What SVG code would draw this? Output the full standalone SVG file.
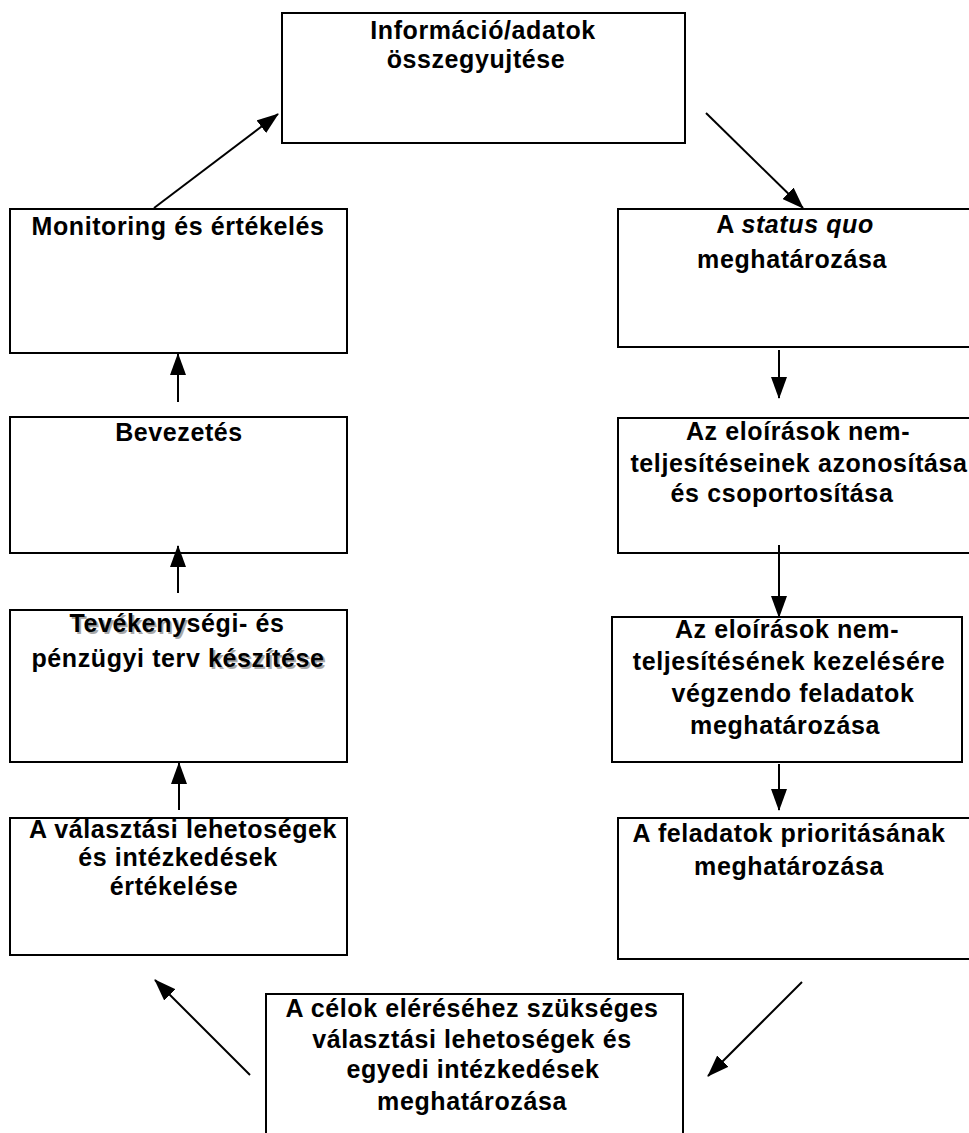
<svg xmlns="http://www.w3.org/2000/svg" width="969" height="1133" viewBox="0 0 969 1133">
<defs>
<marker id="ah" markerUnits="userSpaceOnUse" markerWidth="22" markerHeight="16" refX="21" refY="8" orient="auto">
<path d="M0,0 L22,8 L0,16 z" fill="#000"/>
</marker>
<style>
.box{fill:#fff;stroke:#000;stroke-width:2}
.t{font-family:"Liberation Sans",Arial,sans-serif;font-weight:bold;font-size:25px;letter-spacing:0.6px;fill:#000;text-anchor:middle}
.sh{fill:#a8a8a8}
.no{fill:none}
.c{stroke:#000;stroke-width:2;fill:none;marker-end:url(#ah)}
</style>
</defs>
<rect width="969" height="1133" fill="#fff"/>
<g id="n-info">
<rect class="box" x="282" y="13" width="403" height="130"/>
<text class="t" x="483" y="39">Információ/adatok</text>
<text class="t" x="476" y="68">összegyujtése</text>
</g>
<g id="n-statusquo">
<rect class="box" x="618" y="209" width="360" height="138"/>
<text class="t" x="795" y="233">A <tspan font-style="italic">status quo</tspan></text>
<text class="t" x="792" y="268">meghatározása</text>
</g>
<g id="n-azonositas">
<rect class="box" x="618" y="418" width="360" height="135"/>
<text class="t" x="798" y="440">Az eloírások nem-</text>
<text class="t" x="799" y="472">teljesítéseinek azonosítása</text>
<text class="t" x="782" y="502">és csoportosítása</text>
</g>
<g id="n-feladatok">
<rect class="box" x="612" y="617" width="350" height="145"/>
<text class="t" x="787" y="638">Az eloírások nem-</text>
<text class="t" x="789" y="670">teljesítésének kezelésére</text>
<text class="t" x="793" y="702">végzendo feladatok</text>
<text class="t" x="785" y="734">meghatározás<tspan font-weight="600">a</tspan></text>
</g>
<g id="n-prioritas">
<rect class="box" x="618" y="818" width="360" height="141"/>
<text class="t" x="789" y="842">A feladatok prioritásának</text>
<text class="t" x="789" y="875">meghatározása</text>
</g>
<g id="n-celok">
<rect class="box" x="266" y="994" width="417" height="150"/>
<text class="t" x="472" y="1017">A célok eléréséhez szükséges</text>
<text class="t" x="472" y="1048">választási lehetoségek és</text>
<text class="t" x="473" y="1078">egyedi intézkedések</text>
<text class="t" x="472" y="1110">meghatározása</text>
</g>
<g id="n-ertekeles">
<rect class="box" x="10" y="818" width="337" height="137"/>
<text class="t" x="183" y="838">A választási lehetoségek</text>
<text class="t" x="178" y="866">és intézkedések</text>
<text class="t" x="174" y="895">értékelése</text>
</g>
<g id="n-terv">
<rect class="box" x="10" y="610" width="337" height="152"/>
<text class="t sh" x="179" y="634">Tevékeny<tspan class="no">ségi- és</tspan></text>
<text class="t sh" x="180" y="669"><tspan class="no">pénzügyi terv </tspan>készítése</text>
<text class="t" x="177" y="632">Tevékenységi- és</text>
<text class="t" x="178" y="667">pénzügyi terv készítése</text>
</g>
<g id="n-bevezetes">
<rect class="box" x="10" y="417" width="337" height="136"/>
<text class="t" x="179" y="441">Bevezetés</text>
</g>
<g id="n-monitoring">
<rect class="box" x="10" y="209" width="337" height="144"/>
<text class="t" x="178" y="235">Monitoring és értékelés</text>
</g>
<g id="connectors">
<line class="c" x1="154" y1="208" x2="278" y2="114"/>
<line class="c" x1="706" y1="113" x2="803" y2="208"/>
<line class="c" x1="779" y1="350" x2="779" y2="398"/>
<line class="c" x1="779" y1="545" x2="779" y2="617"/>
<line class="c" x1="779" y1="764" x2="779" y2="810"/>
<line class="c" x1="802" y1="982" x2="708" y2="1076"/>
<line class="c" x1="250" y1="1075" x2="155" y2="980"/>
<line class="c" x1="179" y1="810" x2="179" y2="763"/>
<line class="c" x1="178" y1="593" x2="178" y2="546"/>
<line class="c" x1="178" y1="402" x2="178" y2="354"/>
</g>
</svg>
